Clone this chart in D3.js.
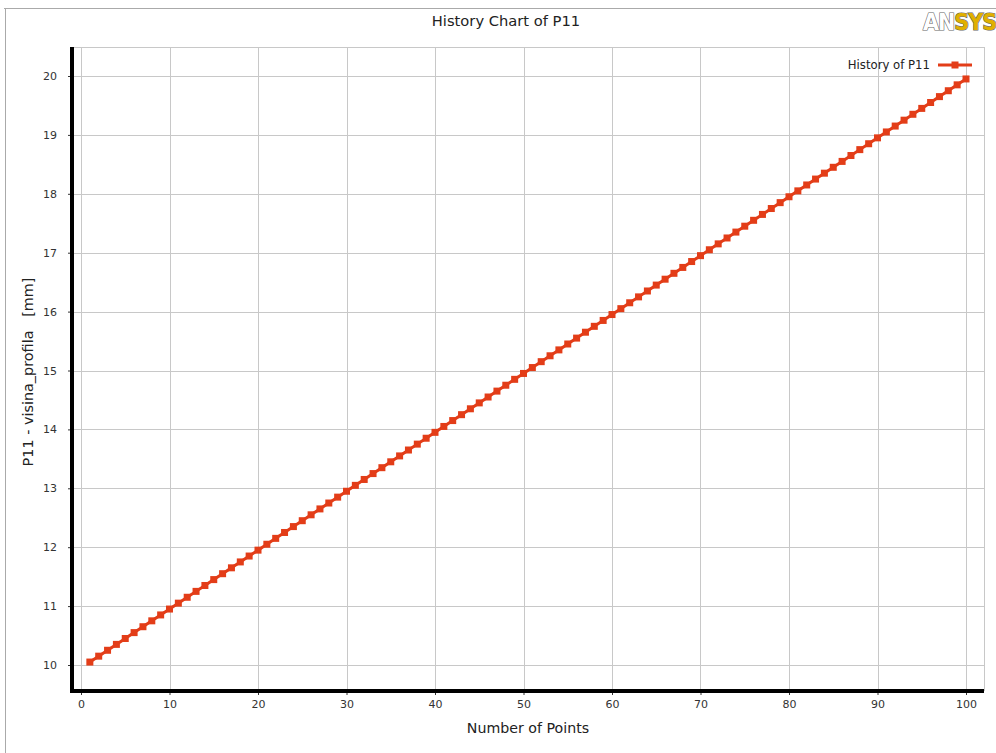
<!DOCTYPE html>
<html>
<head>
<meta charset="utf-8">
<script src="https://cdn.jsdelivr.net/npm/d3@7"></script>
<style>
  body { margin: 0; background: #fff; }
  svg { display: block; }
</style>
</head>
<body>
<div id="chart"></div>
<script>
// point numbers and values of P11
var pointNumbers = [1,2,3,4,5,6,7,8,9,10,11,12,13,14,15,16,17,18,19,20,
  21,22,23,24,25,26,27,28,29,30,31,32,33,34,35,36,37,38,39,40,
  41,42,43,44,45,46,47,48,49,50,51,52,53,54,55,56,57,58,59,60,
  61,62,63,64,65,66,67,68,69,70,71,72,73,74,75,76,77,78,79,80,
  81,82,83,84,85,86,87,88,89,90,91,92,93,94,95,96,97,98,99,100];
var p11Values = [10.05,10.15,10.25,10.35,10.45,10.55,10.65,10.75,10.85,10.95,
  11.05,11.15,11.25,11.35,11.45,11.55,11.65,11.75,11.85,11.95,
  12.05,12.15,12.25,12.35,12.45,12.55,12.65,12.75,12.85,12.95,
  13.05,13.15,13.25,13.35,13.45,13.55,13.65,13.75,13.85,13.95,
  14.05,14.15,14.25,14.35,14.45,14.55,14.65,14.75,14.85,14.95,
  15.05,15.15,15.25,15.35,15.45,15.55,15.65,15.75,15.85,15.95,
  16.05,16.15,16.25,16.35,16.45,16.55,16.65,16.75,16.85,16.95,
  17.05,17.15,17.25,17.35,17.45,17.55,17.65,17.75,17.85,17.95,
  18.05,18.15,18.25,18.35,18.45,18.55,18.65,18.75,18.85,18.95,
  19.05,19.15,19.25,19.35,19.45,19.55,19.65,19.75,19.85,19.95];
var xTicks = [0,10,20,30,40,50,60,70,80,90,100];
var yTicks = [10,11,12,13,14,15,16,17,18,19,20];

var W = 996, H = 753;
var lineColor = "#e33d18";
var font = "'DejaVu Sans', sans-serif";

var svg = d3.select("#chart").append("svg")
  .attr("width", W)
  .attr("height", H);

// outer frame
svg.append("line").attr("x1", 4).attr("x2", W).attr("y1", 8.5).attr("y2", 8.5)
  .attr("stroke", "#aaa").attr("stroke-width", 1);
svg.append("line").attr("x1", 5.5).attr("x2", 5.5).attr("y1", 8).attr("y2", H)
  .attr("stroke", "#aaa").attr("stroke-width", 1);

// title
svg.append("text")
  .attr("x", 506).attr("y", 26)
  .attr("text-anchor", "middle")
  .style("font-family", font)
  .style("font-size", "14.7px")
  .style("fill", "#222")
  .text("History Chart of P11");

// ANSYS logo
var logo = svg.append("text")
  .attr("x", 923).attr("y", 30)
  .style("font-family", "'DejaVu Sans Condensed', 'DejaVu Sans', sans-serif")
  .style("font-size", "23px")
  .style("font-weight", "bold")
  .style("letter-spacing", "-1px")
  .attr("stroke", "#666").attr("stroke-width", 1.2)
  .style("paint-order", "stroke");
logo.append("tspan").attr("fill", "#fff").text("AN");
logo.append("tspan").attr("fill", "#e0b000").text("SYS");

// scales
var x = d3.scaleLinear().domain([0, 100]).range([81, 966]);
var y = d3.scaleLinear().domain([10, 20]).range([665, 76]);

var plotLeft = 72, plotRight = 984, plotTop = 47, plotBottom = 691;

// grid
var grid = svg.append("g");
grid.selectAll(".vg").data(xTicks).enter().append("line")
  .attr("x1", d => Math.round(x(d)) + 0.5).attr("x2", d => Math.round(x(d)) + 0.5)
  .attr("y1", plotTop).attr("y2", plotBottom)
  .attr("stroke", "#c8c8c8").attr("stroke-width", 1);
grid.selectAll(".hg").data(yTicks).enter().append("line")
  .attr("x1", plotLeft).attr("x2", plotRight)
  .attr("y1", d => Math.round(y(d)) + 0.5).attr("y2", d => Math.round(y(d)) + 0.5)
  .attr("stroke", "#c8c8c8").attr("stroke-width", 1);
// plot box top/right
svg.append("line").attr("x1", plotLeft).attr("x2", plotRight).attr("y1", plotTop + 0.5).attr("y2", plotTop + 0.5)
  .attr("stroke", "#c8c8c8");
svg.append("line").attr("x1", plotRight + 0.5).attr("x2", plotRight + 0.5).attr("y1", plotTop).attr("y2", plotBottom)
  .attr("stroke", "#c8c8c8");

// axes
var xAxis = svg.append("g")
  .attr("transform", "translate(0," + plotBottom + ")")
  .call(d3.axisBottom(x).tickValues(xTicks).tickSize(4).tickPadding(5));
var yAxis = svg.append("g")
  .attr("transform", "translate(" + plotLeft + ",0)")
  .call(d3.axisLeft(y).tickValues(yTicks).tickSize(4).tickPadding(11));
[xAxis, yAxis].forEach(function(g) {
  g.select(".domain").remove();
  g.selectAll(".tick line").attr("stroke", "#333");
  g.selectAll(".tick text")
    .style("font-family", font)
    .style("font-size", "11px")
    .style("fill", "#333");
});

// thick axis lines
svg.append("line").attr("x1", plotLeft).attr("x2", plotLeft)
  .attr("y1", plotTop).attr("y2", plotBottom + 2)
  .attr("stroke", "#000").attr("stroke-width", 4);
svg.append("line").attr("x1", plotLeft - 2).attr("x2", plotRight)
  .attr("y1", plotBottom).attr("y2", plotBottom)
  .attr("stroke", "#000").attr("stroke-width", 4);

// axis labels
svg.append("text")
  .attr("x", 528).attr("y", 733)
  .attr("text-anchor", "middle")
  .style("font-family", font)
  .style("font-size", "14.2px")
  .style("fill", "#222")
  .text("Number of Points");
svg.append("text")
  .attr("transform", "translate(33,372) rotate(-90)")
  .attr("text-anchor", "middle")
  .style("font-family", font)
  .style("font-size", "14.4px")
  .style("fill", "#222")
  .style("white-space", "pre")
  .attr("xml:space", "preserve")
  .text("P11 - visina_profila   [mm]");

// series
var data = pointNumbers.map((p, i) => ({x: p, y: p11Values[i]}));
svg.append("path")
  .datum(data)
  .attr("fill", "none")
  .attr("stroke", lineColor)
  .attr("stroke-width", 3)
  .attr("d", d3.line().x(d => x(d.x)).y(d => y(d.y)));
svg.selectAll(".pt").data(data).enter().append("rect")
  .attr("x", d => x(d.x) - 3.5)
  .attr("y", d => y(d.y) - 3.5)
  .attr("width", 7).attr("height", 7)
  .attr("fill", lineColor);

// legend
svg.append("text")
  .attr("x", 930).attr("y", 69)
  .attr("text-anchor", "end")
  .style("font-family", font)
  .style("font-size", "11.7px")
  .style("fill", "#222")
  .text("History of P11");
svg.append("line").attr("x1", 938).attr("x2", 972).attr("y1", 65).attr("y2", 65)
  .attr("stroke", lineColor).attr("stroke-width", 3);
svg.append("rect").attr("x", 951.5).attr("y", 61.5).attr("width", 7).attr("height", 7)
  .attr("fill", lineColor);
</script>
</body>
</html>
